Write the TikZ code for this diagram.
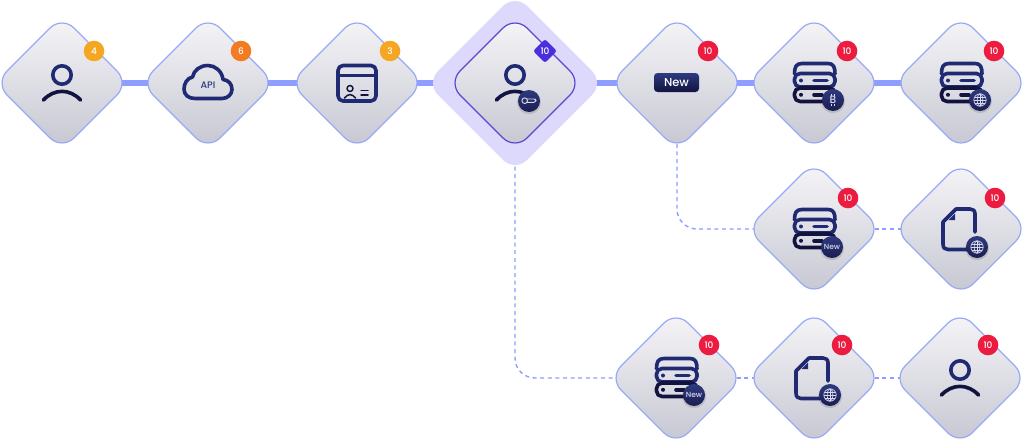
\documentclass[tikz,border=0pt]{standalone}
\usepackage{fontspec}
\setmainfont{Poppins Medium}
\usetikzlibrary{shapes.geometric}
\definecolor{navyA}{HTML}{1F2A72}
\definecolor{navyB}{HTML}{12143F}
\definecolor{edgeblue}{HTML}{9AA9F6}
\definecolor{linkblue}{HTML}{8E9DFF}
\definecolor{halofill}{HTML}{DDD9FC}
\definecolor{tilepurple}{HTML}{5F45D0}
\definecolor{tiletop}{HTML}{F6F6F8}
\definecolor{tilebot}{HTML}{C6C6D2}
\definecolor{badgeyellow}{HTML}{F5A623}
\definecolor{badgeorange}{HTML}{F37B21}
\definecolor{badgered}{HTML}{EC1C40}
\definecolor{badgeviolet}{HTML}{4B2FDC}
\definecolor{minitop}{HTML}{2E3A80}
\definecolor{minibot}{HTML}{1A1D50}
\definecolor{miniink}{HTML}{D8DBEC}
\pgfdeclarelayer{links}
\pgfdeclarelayer{halolayer}
\pgfsetlayers{links,halolayer,main}
\tikzset{
  x=1pt,y=-1pt,
  tile/.style={diamond,aspect=1,inner sep=0pt,outer sep=0pt,minimum width=134pt,minimum height=134pt,
    rounded corners=17pt,draw=edgeblue,line width=1.2pt,top color=tiletop,bottom color=tilebot},
  tilefocus/.style={tile,draw=tilepurple},
  halo/.style={diamond,aspect=1,inner sep=0pt,outer sep=0pt,minimum width=178pt,minimum height=178pt,
    rounded corners=17pt,fill=halofill},
  badge/.style={circle,inner sep=0pt,minimum size=20.6pt,text=white,font=\fontsize{9}{10}\selectfont},
  badgetile/.style={diamond,aspect=1,inner sep=0pt,minimum width=24pt,minimum height=24pt,rounded corners=2.5pt,
    fill=badgeviolet,text=white,font=\fontsize{9}{10}\selectfont},
  thicklink/.style={draw=linkblue,line width=6pt},
  dashlink/.style={draw=linkblue,line width=1.4pt,dash pattern=on 4pt off 3.6pt},
  ico/.style={line width=3.6pt,line cap=round,line join=round,draw=navyA},
  icolow/.style={ico,draw=navyB},
  mini/.style={draw=miniink,line width=.7pt},
  icperson/.pic={
    \draw[ico] (0,-8) circle[radius=9.2];
    \draw[icolow] (-18.5,17) .. controls (-8,5.5) and (8,5.5) .. (18.5,17);
  },
  iccloud/.pic={
    \draw[ico,draw=navyA] (-13,15.5) -- (14,15.5) .. controls (20,15.5) and (24,11) .. (24,6.5)
      .. controls (24,1) and (20.5,-3) .. (15,-3.5) .. controls (14,-12) and (7,-17.5) .. (0,-17.5)
      .. controls (-8,-17.5) and (-14,-13) .. (-15.5,-6) .. controls (-21,-5) and (-24,1) .. (-24,6)
      .. controls (-24,11.5) and (-20,15.5) .. (-13,15.5) -- cycle;
  },
  iccard/.pic={
    \draw[ico,rounded corners=5pt] (-19,-17.5) rectangle (19,18);
    \draw[ico] (-19,-7.5) -- (19,-7.5);
    \draw[icolow,line width=1.5pt] (-7,5.5) circle[radius=3];
    \draw[icolow,line width=1.5pt] (-12.5,15) .. controls (-9,10.5) and (-5,10.5) .. (-1.5,15);
    \draw[icolow,line width=1.5pt] (4,7.5) -- (11,7.5) (4,12) -- (11,12);
  },
  icserver/.pic={
    \draw[ico] (-19.5,-9) .. controls (-19.5,-16) and (-18,-19.5) .. (-12,-19.5) -- (14,-19.5)
      .. controls (19.5,-19.5) and (21,-16) .. (21,-9);
    \draw[ico,rounded corners=5.5pt] (-19.5,-9.5) rectangle (21,4);
    \draw[icolow,rounded corners=5.5pt] (-19.5,5) rectangle (21,18.5);
    \fill[navyA] (-13,-2.5) circle[radius=2];
    \fill[navyB] (-13,11.8) circle[radius=2];
    \draw[ico] (0,-2.5) -- (13,-2.5);
    \draw[icolow] (0,11.8) -- (8,11.8);
  },
  icdoc/.pic={
    \draw[ico] (14,3) -- (14,-15) .. controls (14,-18.5) and (12,-20) .. (9,-20) -- (-5,-20)
      -- (-18,-7) -- (-18,15) .. controls (-18,19) and (-16,20.5) .. (-13,20.5) -- (6,20.5);
    \fill[navyA] (-6,-15.5) -- (-6,-9) -- (-12.5,-9) -- cycle;
  },
  minibase/.pic={
    \fill[black,opacity=.12] (0,1.2) circle[radius=12];
    \shade[top color=minitop,bottom color=minibot] (0,0) circle[radius=11];
  },
  icglobe/.pic={
    \draw[mini] (0,0) circle[radius=6.2];
    \draw[mini] (0,0) ellipse[x radius=2.8,y radius=6.2];
    \draw[mini] (0,-6.2) -- (0,6.2) (-6.2,0) -- (6.2,0) (-5.4,-3) -- (5.4,-3) (-5.4,3) -- (5.4,3);
  },
  ickey/.pic={
    \draw[mini,line width=.9pt,rounded corners=1pt] (-2.5,-2) -- (6,-2) -- (7,-.5) -- (5.5,1.4) -- (-2.5,1.4);
    \draw[mini,line width=.9pt] (-4.3,-.3) circle[radius=2.8];
  },
  icbtc/.pic={
    \draw[mini] (-1.2,-5.8) -- (-1.2,-3.8) (1,-5.8) -- (1,-3.8) (-1.2,3.8) -- (-1.2,5.8) (1,3.8) -- (1,5.8);
  },
}
\begin{document}
\begin{tikzpicture}
\useasboundingbox (0,0) rectangle (1024,439);
% tiles
\node[tile] (n1) at (62,83) {};
\node[tile] (n2) at (208,83) {};
\node[tile] (n3) at (357,83) {};
\node[tilefocus] (n4) at (515,83) {};
\node[tile] (n5) at (677,83) {};
\node[tile] (n6) at (814,83) {};
\node[tile] (n7) at (961,83) {};
\node[tile] (n8) at (814,229) {};
\node[tile] (n9) at (961,229) {};
\node[tile] (n10) at (676,378) {};
\node[tile] (n11) at (814,378) {};
\node[tile] (n12) at (960,378) {};
\begin{pgfonlayer}{halolayer}
  \node[halo] (h4) at (515,83) {};
\end{pgfonlayer}
\begin{pgfonlayer}{links}
  \path[thicklink] (n1.center) -- (n2.center);
  \path[thicklink] (n2.center) -- (n3.center);
  \path[thicklink] (n3.center) -- (h4.center);
  \path[thicklink] (h4.center) -- (n5.center);
  \path[thicklink] (n5.center) -- (n6.center);
  \path[thicklink] (n6.center) -- (n7.center);
  \path[dashlink,rounded corners=20pt] (n5.center) |- (n8.center);
  \path[dashlink] (n8.center) -- (n9.center);
  \path[dashlink,rounded corners=20pt] (h4.center) |- (n10.center);
  \path[dashlink] (n10.center) -- (n11.center);
  \path[dashlink] (n11.center) -- (n12.center);
\end{pgfonlayer}
% icons
\pic at (n1) {icperson};
\pic at (n2) {iccloud};
\node[inner sep=0pt,text=minitop,font=\fontsize{9.5}{10}\selectfont] (apilabel) at (208,85.5) {API};
\pic at (n3) {iccard};
\pic at (n4) {icperson};
\pic at (529,101) {minibase};
\pic at (529,101) {ickey};
\node[inner sep=0pt,rounded corners=3.5pt,minimum width=45pt,minimum height=19pt,
  top color=minitop,bottom color=navyB,text=white,font=\fontsize{11.5}{12}\selectfont] (newpill) at (676.5,82.5) {New};
\pic at (n6) {icserver};
\pic at (833,100) {minibase};
\node[inner sep=0pt,text=miniink,font=\fontsize{10.5}{11}\selectfont] (btc) at (833,100) {B};
\pic at (833,100) {icbtc};
\pic at (n7) {icserver};
\pic at (980,100) {minibase};
\pic at (980,100) {icglobe};
\pic at (n8) {icserver};
\pic at (832,247) {minibase};
\node[inner sep=0pt,text=miniink,font=\fontsize{7.5}{8}\selectfont] (new8) at (832,247) {New};
\pic at (n9) {icdoc};
\pic at (977,247) {minibase};
\pic at (977,247) {icglobe};
\pic at (n10) {icserver};
\pic at (694,395) {minibase};
\node[inner sep=0pt,text=miniink,font=\fontsize{7.5}{8}\selectfont] (new10) at (694,395) {New};
\pic at (n11) {icdoc};
\pic at (830,395) {minibase};
\pic at (830,395) {icglobe};
\pic at (n12) {icperson};
% badges
\node[badge,fill=badgeyellow] (b1) at (94,51) {4};
\node[badge,fill=badgeorange] (b2) at (241,51) {6};
\node[badge,fill=badgeyellow] (b3) at (390,51) {3};
\node[badgetile] (b4) at (545,51) {10};
\node[badge,fill=badgered] (b5) at (708,51) {10};
\node[badge,fill=badgered] (b6) at (847,51) {10};
\node[badge,fill=badgered] (b7) at (994,51) {10};
\node[badge,fill=badgered] (b8) at (848,198) {10};
\node[badge,fill=badgered] (b9) at (995,198) {10};
\node[badge,fill=badgered] (b10) at (709,345) {10};
\node[badge,fill=badgered] (b11) at (842,345) {10};
\node[badge,fill=badgered] (b12) at (988,345) {10};
\end{tikzpicture}
\end{document}
